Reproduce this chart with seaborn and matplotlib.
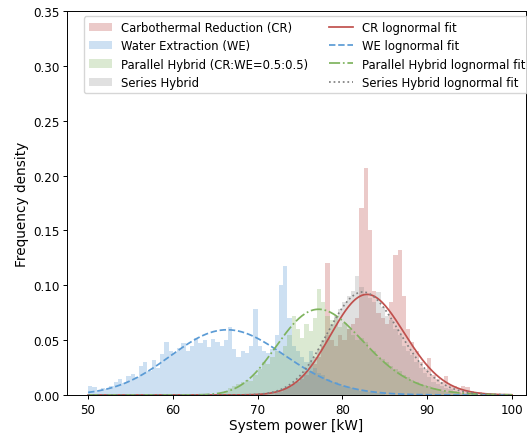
import numpy as np
import pandas as pd
import matplotlib
matplotlib.use("Agg")
import matplotlib.pyplot as plt
import seaborn as sns

# ---------------- data ----------------
bin_width = 0.5

we_start = 50.0
we_heights = [0.008, 0.007, 0.004, 0.006, 0.005, 0.008, 0.012, 0.015, 0.011, 0.017,
              0.019, 0.016, 0.026, 0.030, 0.022, 0.032, 0.025, 0.037, 0.048, 0.040,
              0.038, 0.043, 0.047, 0.040, 0.045, 0.052, 0.047, 0.050, 0.044, 0.051,
              0.048, 0.045, 0.050, 0.062, 0.042, 0.035, 0.040, 0.038, 0.045, 0.078,
              0.045, 0.040, 0.038, 0.042, 0.055, 0.100, 0.118, 0.070, 0.045, 0.040,
              0.035, 0.030, 0.040, 0.025, 0.020, 0.018, 0.015, 0.012, 0.012, 0.010,
              0.008, 0.007, 0.006, 0.005, 0.004, 0.004, 0.003, 0.003, 0.002, 0.002]

cr_start = 70.0
cr_heights = [0.001, 0.001, 0.002, 0.002, 0.003, 0.004, 0.006, 0.008, 0.010, 0.012,
              0.015, 0.018, 0.022, 0.028, 0.035, 0.045, 0.120, 0.050, 0.045, 0.055,
              0.050, 0.060, 0.065, 0.070, 0.170, 0.207, 0.150, 0.095, 0.075, 0.070,
              0.065, 0.085, 0.128, 0.132, 0.090, 0.060, 0.048, 0.040, 0.030, 0.024,
              0.034, 0.018, 0.015, 0.012, 0.017, 0.009, 0.008, 0.006, 0.008, 0.007,
              0.004, 0.003, 0.003, 0.002, 0.001, 0.001]

ph_start = 65.5
ph_heights = [0.002, 0.004, 0.006, 0.008, 0.010, 0.012, 0.014, 0.013, 0.018, 0.024,
              0.030, 0.028, 0.035, 0.040, 0.038, 0.045, 0.055, 0.072, 0.060, 0.052,
              0.065, 0.058, 0.070, 0.097, 0.085, 0.072, 0.068, 0.070, 0.062, 0.066,
              0.060, 0.055, 0.050, 0.052, 0.048, 0.042, 0.040, 0.035, 0.033, 0.030,
              0.026, 0.024, 0.022, 0.018, 0.016, 0.014, 0.012, 0.010, 0.009, 0.008,
              0.006, 0.005, 0.004, 0.003, 0.003, 0.002, 0.002, 0.001, 0.001]

sh_start = 72.0
sh_heights = [0.002, 0.003, 0.005, 0.007, 0.010, 0.013, 0.018, 0.022, 0.030, 0.035,
              0.042, 0.050, 0.055, 0.065, 0.072, 0.078, 0.085, 0.090, 0.095, 0.108,
              0.098, 0.092, 0.088, 0.085, 0.094, 0.080, 0.072, 0.068, 0.060, 0.055,
              0.045, 0.040, 0.036, 0.030, 0.025, 0.020, 0.016, 0.012, 0.010, 0.008,
              0.006, 0.005, 0.004, 0.003, 0.002, 0.002, 0.001]

# lognormal fit parameters (shape s, loc, scale)
cr_fit = dict(s=0.0524, loc=0.0, scale=83.13)
we_fit = dict(s=0.031, loc=-150.0, scale=216.6)
ph_fit = dict(s=0.136, loc=40.0, scale=37.89)
sh_fit = dict(s=0.0515, loc=0.0, scale=82.62)

hist_labels = ["Carbothermal Reduction (CR)", "Water Extraction (WE)",
               "Parallel Hybrid (CR:WE=0.5:0.5)", "Series Hybrid"]
fit_labels = ["CR lognormal fit", "WE lognormal fit",
              "Parallel Hybrid lognormal fit", "Series Hybrid lognormal fit"]
colors = ["#C0504D", "#5B9BD5", "#7FB35E", "#808080"]
hist_alphas = [0.3, 0.3, 0.28, 0.24]
styles = ["-", "--", "-.", ":"]

# ---------------- plotting ----------------
def lognorm_pdf(x, s, loc, scale):
    y = (x - loc) / scale
    out = np.zeros_like(x)
    m = y > 0
    out[m] = np.exp(-np.log(y[m]) ** 2 / (2 * s ** 2)) / (y[m] * s * np.sqrt(2 * np.pi)) / scale
    return out

fig, ax = plt.subplots(figsize=(5.27, 4.35), dpi=100)
fig.subplots_adjust(left=0.127, right=0.998, bottom=0.0897, top=0.9724)

series = [(cr_start, cr_heights), (we_start, we_heights),
          (ph_start, ph_heights), (sh_start, sh_heights)]
for (start, h), lab, col, a in zip(series, hist_labels, colors, hist_alphas):
    h = np.asarray(h)
    edges = start + bin_width * np.arange(len(h) + 1)
    centers = edges[:-1] + bin_width / 2
    df = pd.DataFrame({"power": centers, "w": h})
    sns.histplot(data=df, x="power", weights="w", bins=[float(e) for e in edges],
                 stat="count", color=col, alpha=a, linewidth=0, edgecolor="none",
                 label=lab, ax=ax)

xgrid = np.linspace(50, 100, 600)
for fit, lab, col, ls in zip([cr_fit, we_fit, ph_fit, sh_fit], fit_labels, colors, styles):
    dfl = pd.DataFrame({"x": xgrid, "y": lognorm_pdf(xgrid, **fit)})
    sns.lineplot(data=dfl, x="x", y="y", color=col, linestyle=ls, linewidth=1.25,
                 label=lab, ax=ax)

ax.set_xlim(47.5, 101.65)
ax.set_ylim(0, 0.35)
ax.set_xticks([50, 60, 70, 80, 90, 100])
ax.set_yticks(np.arange(0, 0.351, 0.05))
ax.yaxis.set_major_formatter(matplotlib.ticker.FormatStrFormatter("%.2f"))
ax.tick_params(labelsize=8.6, length=3, width=0.7, pad=2.5)
for sp in ax.spines.values():
    sp.set_linewidth(0.7)
ax.set_xlabel("System power [kW]", fontsize=9.8, labelpad=1.5)
ax.set_ylabel("Frequency density", fontsize=9.8, labelpad=3)

handles, labels = ax.get_legend_handles_labels()
order = [labels.index(l) for l in hist_labels + fit_labels]
ax.legend([handles[i] for i in order], [labels[i] for i in order],
          ncol=2, loc="upper left", bbox_to_anchor=(0.037, 0.986),
          borderaxespad=0, fontsize=8.4, labelspacing=0.45, columnspacing=1.8)

fig.savefig("out.png", dpi=100)
